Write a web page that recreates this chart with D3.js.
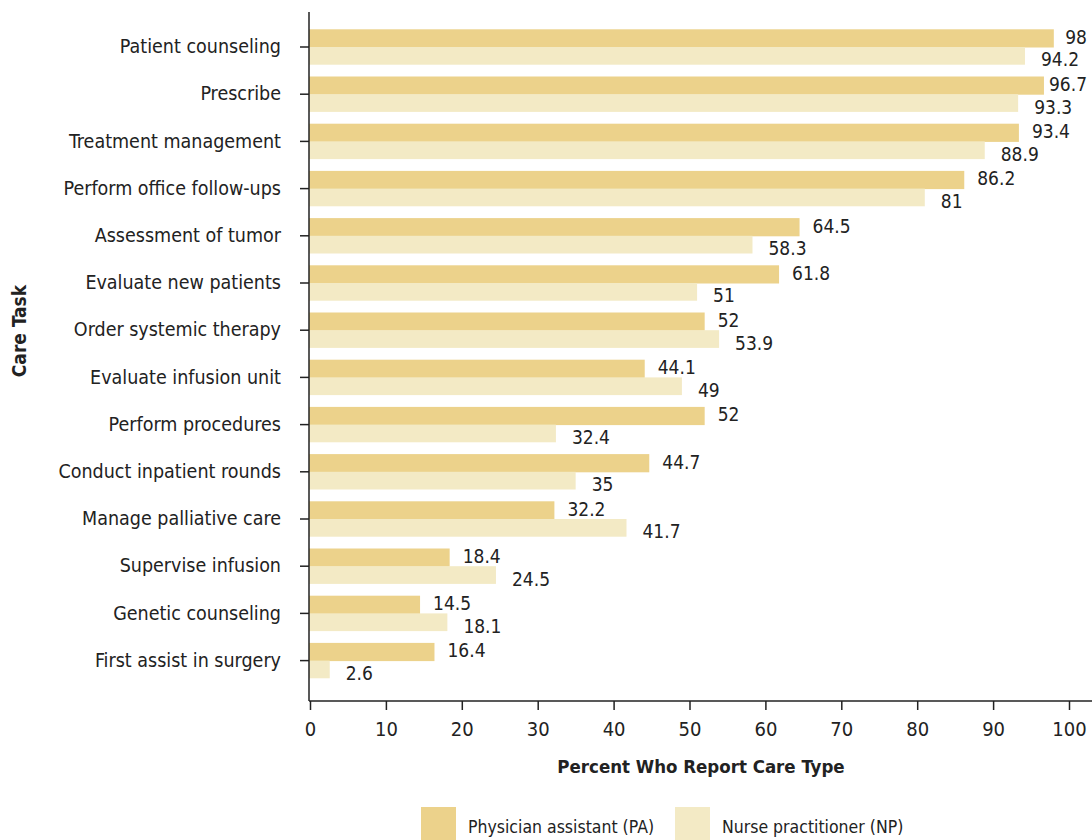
<!DOCTYPE html>
<html>
<head>
<meta charset="utf-8">
<script src="https://cdnjs.cloudflare.com/ajax/libs/d3/7.8.5/d3.min.js"></script>
<style>
  body { margin: 0; background: #fff; }
  text { font-family: "DejaVu Sans Condensed", "Liberation Sans Narrow", sans-serif; fill: #222; }
</style>
</head>
<body>
<script>
var w = 1092;
var h = 840;

var tasks = ["Patient counseling", "Prescribe", "Treatment management", "Perform office follow-ups",
  "Assessment of tumor", "Evaluate new patients", "Order systemic therapy", "Evaluate infusion unit",
  "Perform procedures", "Conduct inpatient rounds", "Manage palliative care", "Supervise infusion",
  "Genetic counseling", "First assist in surgery"];
var paValues = [98, 96.7, 93.4, 86.2, 64.5, 61.8, 52, 44.1, 52, 44.7, 32.2, 18.4, 14.5, 16.4];
var npValues = [94.2, 93.3, 88.9, 81, 58.3, 51, 53.9, 49, 32.4, 35, 41.7, 24.5, 18.1, 2.6];
var xTicks = [0, 10, 20, 30, 40, 50, 60, 70, 80, 90, 100];
var seriesNames = ["Physician assistant (PA)", "Nurse practitioner (NP)"];
var colors = ["#ecd28b", "#f3eac5"];

var svg = d3.select("body")
  .append("svg")
  .attr("width", w)
  .attr("height", h);

var x = d3.scaleLinear().domain([0, 100]).range([310, 1069]);
var y = d3.scaleBand().domain(tasks).range([23.4, 684.2]).paddingInner(0.25).paddingOuter(0.125);
var half = y.bandwidth() / 2;

// bars
var groups = svg.selectAll("g.task")
  .data(tasks)
  .enter()
  .append("g")
  .attr("class", "task")
  .attr("transform", function(d) { return "translate(0," + y(d) + ")"; });

groups.append("rect")
  .attr("x", 309)
  .attr("y", 0)
  .attr("height", half + 0.5)
  .attr("width", function(d, i) { return x(paValues[i]) - 309; })
  .attr("fill", colors[0]);

groups.append("rect")
  .attr("x", 309)
  .attr("y", half)
  .attr("height", half)
  .attr("width", function(d, i) { return x(npValues[i]) - 309; })
  .attr("fill", colors[1]);

// value labels, kept inside the right edge
function fitLabel(sel, values, offset) {
  sel.attr("x", function(d, i) {
    var len = this.getComputedTextLength();
    return Math.min(x(values[i]) + offset, w - 5 - len);
  });
}

var paLabels = groups.append("text")
  .attr("y", half / 2 - 1)
  .attr("dy", "0.35em")
  .style("font-size", "19px")
  .text(function(d, i) { return paValues[i]; });
fitLabel(paLabels, paValues, 13);

var npLabels = groups.append("text")
  .attr("y", half * 1.5 + 4)
  .attr("dy", "0.35em")
  .style("font-size", "19px")
  .text(function(d, i) { return npValues[i]; });
fitLabel(npLabels, npValues, 16);

// y axis
var yAxis = svg.append("g")
  .attr("transform", "translate(309,0)")
  .call(d3.axisLeft(y).tickSize(9).tickPadding(19));
yAxis.select(".domain").remove();
yAxis.selectAll("line").attr("stroke", "#222").attr("stroke-width", 1.5);
yAxis.selectAll("text").style("font-size", "19.5px").style("fill", "#222");
svg.append("line")
  .attr("x1", 309).attr("x2", 309)
  .attr("y1", 12).attr("y2", 701)
  .attr("stroke", "#222").attr("stroke-width", 1.5);

// x axis
var xAxis = svg.append("g")
  .attr("transform", "translate(0,701)")
  .call(d3.axisBottom(x).tickValues(xTicks).tickSize(9).tickPadding(12));
xAxis.select(".domain").remove();
xAxis.selectAll("line").attr("stroke", "#222").attr("stroke-width", 1.5);
xAxis.selectAll("text").style("font-size", "20px").style("fill", "#222");
svg.append("line")
  .attr("x1", 309).attr("x2", 1092)
  .attr("y1", 701).attr("y2", 701)
  .attr("stroke", "#222").attr("stroke-width", 1.5);

// axis titles
svg.append("text")
  .attr("x", 701).attr("y", 773)
  .attr("text-anchor", "middle")
  .style("font-size", "18.5px")
  .style("font-weight", "bold")
  .text("Percent Who Report Care Type");

svg.append("text")
  .attr("transform", "translate(26,331) rotate(-90)")
  .attr("text-anchor", "middle")
  .style("font-size", "19px")
  .style("font-weight", "bold")
  .text("Care Task");

// legend
var legendX = [421, 675];
var legend = svg.selectAll("g.legend")
  .data(seriesNames)
  .enter()
  .append("g")
  .attr("class", "legend")
  .attr("transform", function(d, i) { return "translate(" + legendX[i] + ",807)"; });

legend.append("rect")
  .attr("width", 35).attr("height", 34)
  .attr("fill", function(d, i) { return colors[i]; });

legend.append("text")
  .attr("x", 47).attr("y", 20)
  .attr("dy", "0.35em")
  .style("font-size", "17.5px")
  .text(function(d) { return d; });
</script>
</body>
</html>
